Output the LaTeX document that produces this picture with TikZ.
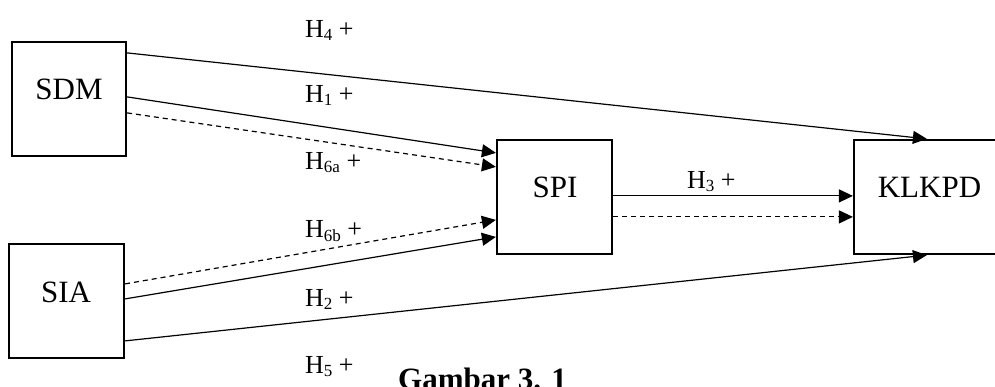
\documentclass[tikz,border=0pt]{standalone}
\usepackage{fontspec}
\setmainfont{Liberation Serif}
\usetikzlibrary{arrows.meta,calc}
\newcommand{\hsb}[1]{\raisebox{-3pt}{\fontsize{17}{17}\selectfont #1}}
\begin{document}
\begin{tikzpicture}[x=1pt,y=-1pt,
  box/.style={draw,line width=2.2pt,inner sep=0pt,minimum height=114pt},
  boxtxt/.style={anchor=base,inner sep=0pt,font=\fontsize{31}{37}\selectfont},
  hlab/.style={anchor=base west,inner sep=0pt,font=\fontsize{26}{30}\selectfont},
  arr/.style={line width=1.2pt,-{Triangle[length=14pt,width=13pt]}},
  darr/.style={arr,dash pattern=on 5pt off 4pt}]
\useasboundingbox (0,0) rectangle (995,387);
% boxes
\node[box,minimum width=114pt] (sdm) at (69,99) {};
\node[box,minimum width=115pt] (sia) at (66.5,301) {};
\node[box,minimum width=115pt] (spi) at (554.5,197) {};
\node[box,minimum width=160pt] (klkpd) at (934,197) {};
% box labels
\node[boxtxt] (sdmt) at (69,100) {SDM};
\node[boxtxt] (siat) at (66,302) {SIA};
\node[boxtxt] (spit) at (555,198) {SPI};
\node[boxtxt] (klkpdt) at (929.5,198) {KLKPD};
% connectors
\draw[arr] ([yshift=-12pt]sdm.north east) -- ([xshift=74pt]klkpd.north west);
\draw[arr] ([yshift=-56pt]sdm.north east) -- ([yshift=-14pt]spi.north west);
\draw[darr] ([yshift=-72pt]sdm.north east) -- ([yshift=-28pt]spi.north west);
\draw[darr] ([yshift=-41pt]sia.north east) -- ([yshift=-81pt]spi.north west);
\draw[arr] ([yshift=-56pt]sia.north east) -- ([yshift=-98pt]spi.north west);
\draw[arr] ([yshift=-98pt]sia.north east) -- ([xshift=74pt]klkpd.south west);
\draw[arr] ([yshift=-57pt]spi.north east) -- ([yshift=-57pt]klkpd.north west);
\draw[darr] ([yshift=-78pt]spi.north east) -- ([yshift=-78pt]klkpd.north west);
% labels
\node[hlab] (h4) at (305,38) {H\hsb{4} +};
\node[hlab] (h1) at (305,103) {H\hsb{1} +};
\node[hlab] (h6a) at (305,170) {H\hsb{6a} +};
\node[hlab] (h6b) at (305,238) {H\hsb{6b} +};
\node[hlab] (h2) at (305,306) {H\hsb{2} +};
\node[hlab] (h5) at (305,373) {H\hsb{5} +};
\node[hlab] (h3) at (687,189) {H\hsb{3} +};
\node[anchor=base west,inner sep=0pt,font=\bfseries\fontsize{31}{37}\selectfont] (cap) at (398,389) {Gambar 3. 1};
\end{tikzpicture}
\end{document}
